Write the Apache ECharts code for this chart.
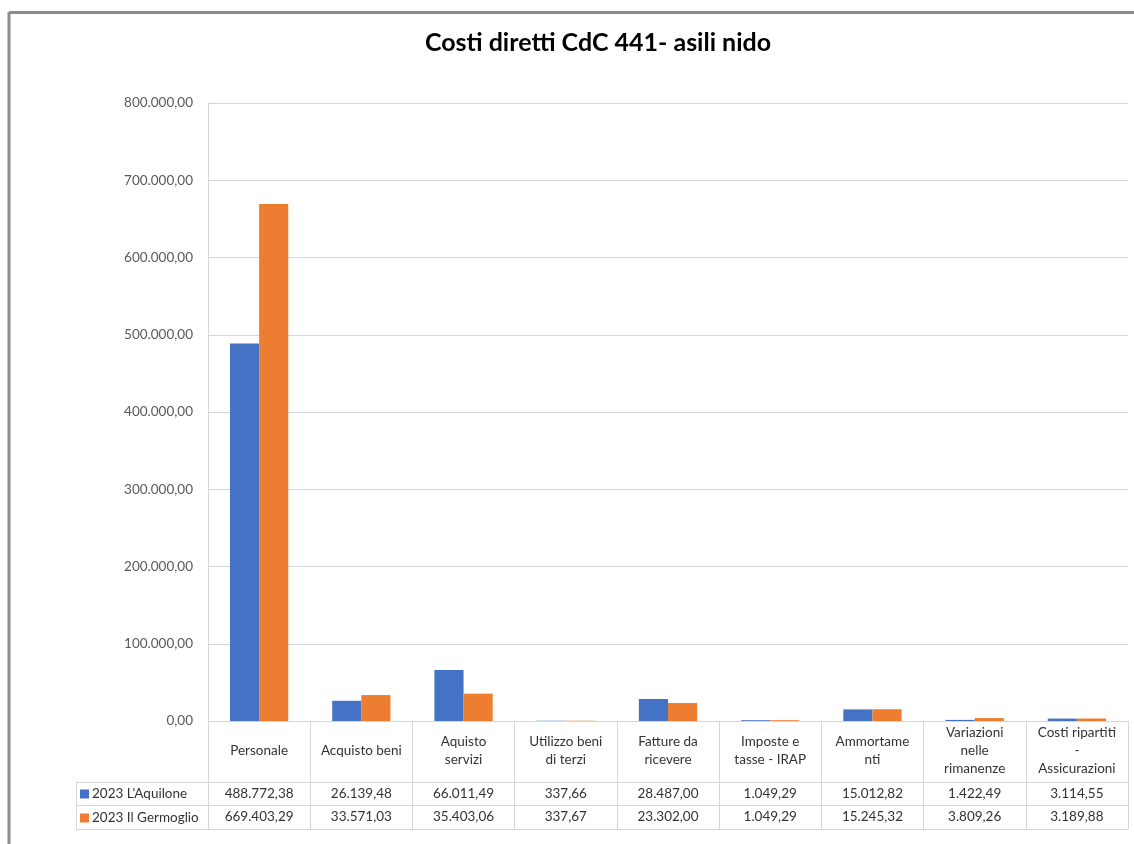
<!DOCTYPE html>
<html>
<head>
<meta charset="utf-8">
<style>
  html, body { margin: 0; padding: 0; background: #ffffff; }
  #chart { width: 1134px; height: 844px; }
</style>
<script src="https://cdn.jsdelivr.net/npm/echarts@6/dist/echarts.min.js"></script>
</head>
<body>
<div id="chart"></div>
<script>
// Cost categories (header row of the data table)
const categories = [
  'Personale',
  'Acquisto beni',
  'Aquisto\nservizi',
  'Utilizzo beni\ndi terzi',
  'Fatture da\nricevere',
  'Imposte e\ntasse - IRAP',
  'Ammortame\nnti',
  'Variazioni\nnelle\nrimanenze',
  'Costi ripartiti\n-\nAssicurazioni'
];

const seriesNames = ["2023 L'Aquilone", '2023 Il Germoglio'];

// Direct costs per category, in euro
const aquilone = [488772.38, 26139.48, 66011.49, 337.66, 28487.00, 1049.29, 15012.82, 1422.49, 3114.55];
const germoglio = [669403.29, 33571.03, 35403.06, 337.67, 23302.00, 1049.29, 15245.32, 3809.26, 3189.88];

// Value axis
const yMin = 0;
const yMax = 800000;
const yStep = 100000;

const FONT = 'Lato, "Noto Sans", sans-serif';
const GRID_LINE = '#d6d6d6';
const TEXT = '#333333';
const FS = 13.5;

// Italian number format: 1.234.567,89
function fmt(v) {
  const parts = Math.abs(v).toFixed(2).split('.');
  const intPart = parts[0].replace(/\B(?=(\d{3})+(?!\d))/g, '.');
  return (v < 0 ? '-' : '') + intPart + ',' + parts[1];
}

const chart = echarts.init(document.getElementById('chart'), null, { renderer: 'canvas' });

const tableLabel = {
  interval: 0,
  fontFamily: FONT,
  fontSize: FS,
  color: TEXT,
  verticalAlign: 'middle'
};

const legendStyle = {
  left: 80,
  icon: 'rect', itemWidth: 9, itemHeight: 9, itemGap: 4,
  textStyle: { fontFamily: FONT, fontSize: FS, color: TEXT, padding: [0, 0, 0, -2] },
  padding: 0, selectedMode: false
};

chart.setOption({
  backgroundColor: '#ffffff',
  animation: false,
  textStyle: { fontFamily: FONT },
  grid: { left: 208, right: 6, top: 103, bottom: 123, containLabel: false },
  legend: [
    Object.assign({ data: [seriesNames[0]], top: 787 }, legendStyle),
    Object.assign({ data: [seriesNames[1]], top: 811 }, legendStyle)
  ],
  xAxis: [
    {
      type: 'category',
      data: categories,
      position: 'bottom',
      axisLine: { show: true, lineStyle: { color: GRID_LINE, width: 1 } },
      axisTick: { show: true, length: 108, lineStyle: { color: GRID_LINE, width: 1 } },
      axisLabel: Object.assign({}, tableLabel, { margin: 30, lineHeight: 18 })
    },
    {
      type: 'category',
      data: categories,
      position: 'bottom',
      offset: 61,
      axisLine: { show: true, lineStyle: { color: GRID_LINE, width: 1 } },
      axisTick: { show: false },
      axisLabel: Object.assign({}, tableLabel, {
        margin: 12,
        formatter: (v, i) => fmt(aquilone[i])
      })
    },
    {
      type: 'category',
      data: categories,
      position: 'bottom',
      offset: 84,
      axisLine: { show: true, lineStyle: { color: GRID_LINE, width: 1 } },
      axisTick: { show: false },
      axisLabel: Object.assign({}, tableLabel, {
        margin: 12,
        formatter: (v, i) => fmt(germoglio[i])
      })
    },
    {
      type: 'category',
      data: categories,
      position: 'bottom',
      offset: 108,
      axisLine: { show: true, lineStyle: { color: GRID_LINE, width: 1 } },
      axisTick: { show: false },
      axisLabel: { show: false }
    }
  ],
  yAxis: {
    type: 'value',
    min: yMin,
    max: yMax,
    interval: yStep,
    axisLine: { show: true, lineStyle: { color: GRID_LINE, width: 1 } },
    axisTick: { show: false },
    splitLine: { show: true, lineStyle: { color: GRID_LINE, width: 1 } },
    axisLabel: {
      margin: 15,
      fontFamily: FONT,
      fontSize: FS,
      color: '#595959',
      formatter: v => fmt(v)
    }
  },
  series: [
    {
      name: seriesNames[0],
      type: 'bar',
      xAxisIndex: 0,
      data: aquilone,
      itemStyle: { color: '#4472C4' },
      barGap: '0%',
      barCategoryGap: '43%'
    },
    {
      name: seriesNames[1],
      type: 'bar',
      xAxisIndex: 0,
      data: germoglio,
      itemStyle: { color: '#ED7D31' },
      barGap: '0%',
      barCategoryGap: '43%'
    }
  ],
  graphic: [
    // chart frame
    { type: 'line', shape: { x1: 9, y1: 12.5, x2: 1134, y2: 12.5 }, style: { stroke: '#8c8c8c', lineWidth: 3 }, silent: true },
    { type: 'line', shape: { x1: 9, y1: 12, x2: 9, y2: 844 }, style: { stroke: '#8c8c8c', lineWidth: 3 }, silent: true },
    // title
    {
      type: 'text', x: 598, y: 43, silent: true,
      style: {
        text: 'Costi diretti CdC 441- asili nido',
        font: 'bold 25px ' + FONT,
        fill: '#000000',
        align: 'center',
        verticalAlign: 'middle'
      }
    },
    // legend column of the data table
    { type: 'line', shape: { x1: 76, y1: 782.5, x2: 208, y2: 782.5 }, style: { stroke: GRID_LINE, lineWidth: 1 }, silent: true },
    { type: 'line', shape: { x1: 76, y1: 805.5, x2: 208, y2: 805.5 }, style: { stroke: GRID_LINE, lineWidth: 1 }, silent: true },
    { type: 'line', shape: { x1: 76, y1: 829.5, x2: 208, y2: 829.5 }, style: { stroke: GRID_LINE, lineWidth: 1 }, silent: true },
    { type: 'line', shape: { x1: 76.5, y1: 782, x2: 76.5, y2: 830 }, style: { stroke: GRID_LINE, lineWidth: 1 }, silent: true }
  ]
});
</script>
</body>
</html>
